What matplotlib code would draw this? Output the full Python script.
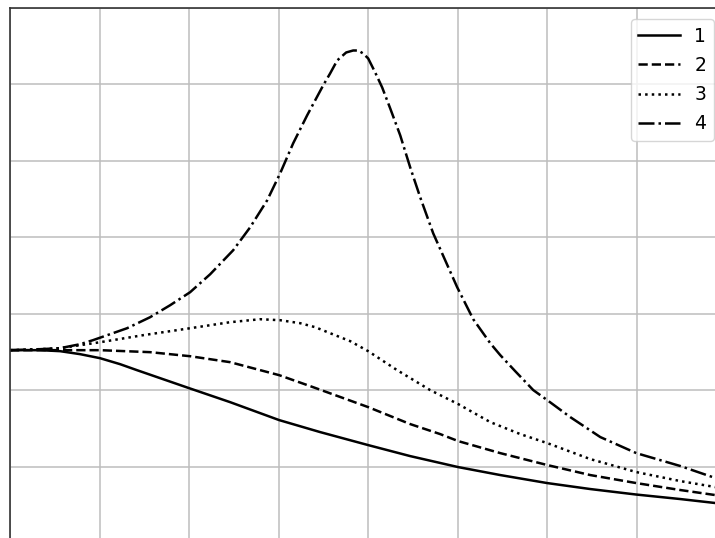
import matplotlib
matplotlib.use('Agg')
import matplotlib.pyplot as plt

# curve data (grid units: one grid cell = 1)
x1 = [0, 0.335, 0.559, 0.782, 1.006, 1.229, 1.419, 1.676, 2.0, 2.458, 3.006,
      3.464, 4.0, 4.469, 5.006, 5.475, 6.0, 6.480, 6.994, 7.486, 7.877]
y1 = [2.523, 2.523, 2.510, 2.471, 2.418, 2.340, 2.261, 2.157, 2.026, 1.843,
      1.608, 1.451, 1.281, 1.137, 0.993, 0.889, 0.784, 0.706, 0.634, 0.575,
      0.523]

x2 = [0, 0.559, 1.006, 1.564, 2.011, 2.458, 3.006, 3.385, 4.0, 4.469, 4.804,
      5.006, 5.475, 6.0, 6.480, 6.994, 7.486, 7.877]
y2 = [2.523, 2.523, 2.523, 2.497, 2.444, 2.366, 2.196, 2.039, 1.778, 1.556,
      1.425, 1.333, 1.176, 1.020, 0.889, 0.784, 0.693, 0.627]

x3 = [0, 0.335, 0.559, 1.006, 1.486, 2.011, 2.458, 2.793, 3.017, 3.240,
      3.408, 3.575, 3.799, 4.0, 4.324, 4.693, 5.006, 5.363, 5.698, 6.0,
      6.480, 6.994, 7.486, 7.877]
y3 = [2.523, 2.536, 2.549, 2.627, 2.719, 2.810, 2.889, 2.928, 2.915, 2.876,
      2.824, 2.745, 2.641, 2.510, 2.261, 2.0, 1.817, 1.582, 1.425, 1.307,
      1.098, 0.928, 0.810, 0.732]

x4 = [0, 0.335, 0.559, 0.782, 0.927, 1.117, 1.307, 1.564, 1.788, 2.011,
      2.235, 2.492, 2.682, 2.872, 3.017, 3.162, 3.318, 3.497, 3.575, 3.654,
      3.754, 3.832, 3.888, 3.944, 4.0, 4.078, 4.156, 4.246, 4.358, 4.469,
      4.581, 4.726, 4.994, 5.173, 5.363, 5.475, 5.642, 5.844, 6.0, 6.257,
      6.592, 6.994, 7.486, 7.877]
y4 = [2.523, 2.536, 2.549, 2.601, 2.654, 2.732, 2.810, 2.954, 3.111, 3.281,
      3.516, 3.830, 4.131, 4.484, 4.837, 5.229, 5.595, 5.987, 6.144, 6.314,
      6.418, 6.444, 6.444, 6.405, 6.340, 6.157, 5.961, 5.686, 5.333, 4.915,
      4.523, 4.052, 3.346, 2.928, 2.614, 2.458, 2.248, 2.0, 1.869, 1.647,
      1.386, 1.176, 1.007, 0.850]

labels = ['1', '2', '3', '4']

fig = plt.figure(figsize=(7.15, 5.38), dpi=100)
# axes run past the right and bottom edges, like the cropped original
ax = fig.add_axes([10 / 715, 1 - 543 / 538, 711 / 715, 535 / 538])

lw = 1.8
ax.plot(x1, y1, color='black', linestyle='-', linewidth=lw, label=labels[0])
ax.plot(x2, y2, color='black', linestyle='--', linewidth=lw, label=labels[1])
ax.plot(x3, y3, color='black', linestyle=':', linewidth=lw, label=labels[2])
ax.plot(x4, y4, color='black', linestyle='-.', linewidth=lw, label=labels[3])

ax.set_xlim(0, 7.94)
ax.set_ylim(0, 7)
ax.set_xticks(range(0, 8))
ax.set_yticks(range(0, 8))
ax.grid(True, color='#bdbdbd', linewidth=1.1)
ax.tick_params(length=0, labelbottom=False, labelleft=False)
for s in ax.spines.values():
    s.set_color('#333333')
    s.set_linewidth(1.2)

ax.legend(loc='upper right', bbox_to_anchor=(714 / 715, 1 - 19 / 538),
          bbox_transform=fig.transFigure, borderaxespad=0,
          fontsize=13.5, handlelength=2.2, labelspacing=0.55)

plt.savefig('out.png', dpi=100)
